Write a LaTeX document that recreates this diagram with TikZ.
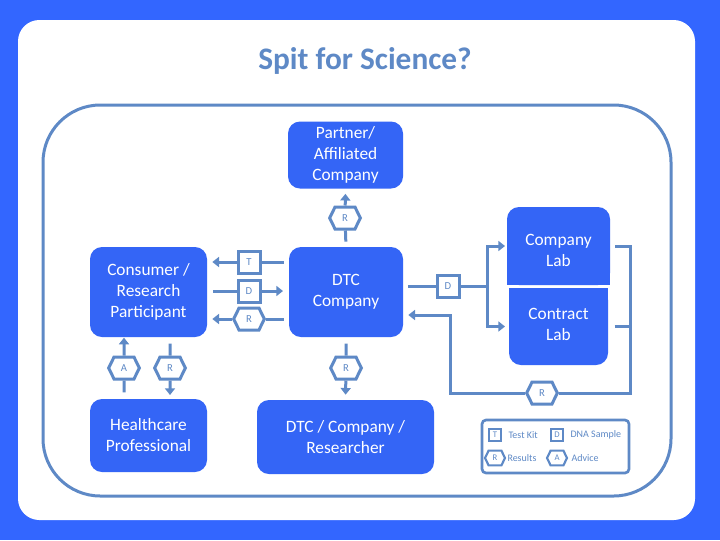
\documentclass[tikz,border=0pt]{standalone}
\usepackage{fontspec}
\setmainfont{Carlito}
\usetikzlibrary{shapes.symbols,arrows.meta}

\definecolor{bgblue}{RGB}{51,102,255}
\definecolor{boxblue}{RGB}{52,101,246}
\definecolor{lineblue}{RGB}{94,137,198}

\tikzset{every picture/.style={line width=0.75pt}}
\tikzset{
  bluebox/.style={fill=boxblue, text=white, rounded corners=9pt, align=center, inner sep=0pt,
    outer sep=0pt, font=\fontsize{13}{15.75}\selectfont},
  conn/.style={draw=lineblue, line width=2.25pt},
  arr/.style={conn, -{Triangle[length=5pt,width=7.5pt]}},
  hexbox/.style={shape=signal, signal to=east and west, signal pointer angle=128, draw=lineblue,
    fill=white, line width=2.25pt, minimum width=23pt, minimum height=16.5pt, inner sep=0pt,
    text=lineblue, font=\fontsize{8}{9}\selectfont},
  sqbox/.style={draw=lineblue, fill=white, line width=2.25pt, minimum size=16.5pt, inner sep=0pt,
    text=lineblue, font=\fontsize{8}{9}\selectfont},
  keyhex/.style={hexbox, line width=1.6pt, minimum width=15pt, minimum height=11pt, font=\fontsize{6.5}{7}\selectfont},
  keysq/.style={sqbox, line width=1.6pt, minimum size=9.5pt, font=\fontsize{6.5}{7}\selectfont},
  keytext/.style={anchor=west, inner sep=0.75pt, text=lineblue, font=\fontsize{7.5}{8}\selectfont}
}

\begin{document}
\begin{tikzpicture}[x=0.75pt,y=0.75pt,yscale=-1,xscale=1]
%Shape: Background
\fill [bgblue] (0,0) rectangle (720,540);
\fill [white, rounded corners=16pt] (18,20) rectangle (695,520);
%Shape: Rounded Outline
\draw [lineblue, line width=2.25pt, rounded corners=43pt] (43,105) rectangle (671,496);

% Text Node
\node (title) at (365,61) [text=lineblue, font=\fontsize{23.5}{28}\selectfont\bfseries] {Spit for Science?};

%Boxes
\node (partner) at (345.5,155) [bluebox, minimum width=86.25pt, minimum height=50.25pt] {Partner/\\Affiliated\\Company};
\node (consumer) at (148.5,292) [bluebox, minimum width=87.75pt, minimum height=67.5pt] {Consumer /\\Research\\Participant};
\node (dtc) at (346,292) [bluebox, minimum width=85.5pt, minimum height=67.5pt] {DTC\\Company};
\node (health) at (148.5,435.5) [bluebox, minimum width=87.75pt, minimum height=54.75pt] {Healthcare\\Professional};
\node (researcher) at (345.5,437) [bluebox, minimum width=132.75pt, minimum height=55.5pt] {DTC / Company /\\Researcher};
\node (complab) at (558.5,246) [bluebox, minimum width=77.25pt, minimum height=58.5pt] {};
\fill [boxblue] (complab.west) rectangle (complab.south east);
\node at (558.5,250) [bluebox, fill=none] {Company\\Lab};
\node (contlab) at (558.5,326.5) [bluebox, minimum width=74.25pt, minimum height=57.75pt] {};
\fill [boxblue] (contlab.north west) rectangle (contlab.east);
\node at (558.5,324) [bluebox, fill=none] {Contract\\Lab};

%Tags
\node (rpart) at (345,218) [hexbox] {R};
\node (tkit) at (249,262) [sqbox] {T};
\node (dna) at (249,291) [sqbox] {D};
\node (rcons) at (249,319) [hexbox] {R};
\node (adv) at (124,368) [hexbox] {A};
\node (rhealth) at (170,368) [hexbox] {R};
\node (rres) at (346,368) [hexbox] {R};
\node (dlab) at (448,286) [sqbox] {D};
\node (rlab) at (542,393) [hexbox] {R};
\coordinate (split) at (487,286);
\coordinate (back) at (630,393);
\coordinate (turn) at (450,315);

%Connectors
\draw [conn, shorten <=4pt] (dtc.north) -- (rpart);
\draw [arr, shorten >=4pt] (rpart) -- (partner.south);
\draw [conn, shorten <=4pt] (dtc.west |- tkit) -- (tkit);
\draw [arr, shorten >=4pt] (tkit) -- (consumer.east |- tkit);
\draw [conn, shorten <=4.5pt] (consumer.east |- dna) -- (dna);
\draw [arr, shorten >=4.5pt] (dna) -- (dtc.west |- dna);
\draw [conn, shorten <=4pt] (dtc.west |- rcons) -- (rcons);
\draw [arr, shorten >=4pt] (rcons) -- (consumer.east |- rcons);
\draw [conn, shorten <=5pt] (health.north -| adv) -- (adv);
\draw [arr, shorten >=0.5pt] (adv) -- (consumer.south -| adv);
\draw [conn, shorten <=5pt] (consumer.south -| rhealth) -- (rhealth);
\draw [arr, shorten >=3pt] (rhealth) -- (health.north -| rhealth);
\draw [conn, shorten <=5pt] (dtc.south) -- (rres);
\draw [arr, shorten >=4pt] (rres) -- (researcher.north);
\draw [conn, shorten <=4pt] (dtc.east |- dlab) -- (dlab);
\draw [conn] (dlab) -- (split);
\draw [arr, shorten >=1.5pt] (split) |- (complab.west);
\draw [arr, shorten >=3pt] (split) |- (contlab.west);
\draw [conn, shorten <=4pt] (complab.east) -| (back) -- (rlab);
\draw [conn, shorten <=5pt] (contlab.east) -- (contlab.east -| back);
\draw [arr, shorten >=4pt] (rlab) -| (turn) -- (dtc.east |- turn);

%Shape: Key
\draw [lineblue, line width=2pt, rounded corners=3pt] (482,420) rectangle (629,473);
\node (kt) at (495,435) [keysq] {T};
\node (kd) at (557,435) [keysq] {D};
\node (kr) at (495,458) [keyhex] {R};
\node (ka) at (557,458) [keyhex] {A};
% Text Node
\node at (507,435) [keytext] {Test Kit};
\node at (569,435) [keytext] {DNA Sample};
\node at (506,458) [keytext] {Results};
\node at (570,458) [keytext] {Advice};
\end{tikzpicture}
\end{document}
